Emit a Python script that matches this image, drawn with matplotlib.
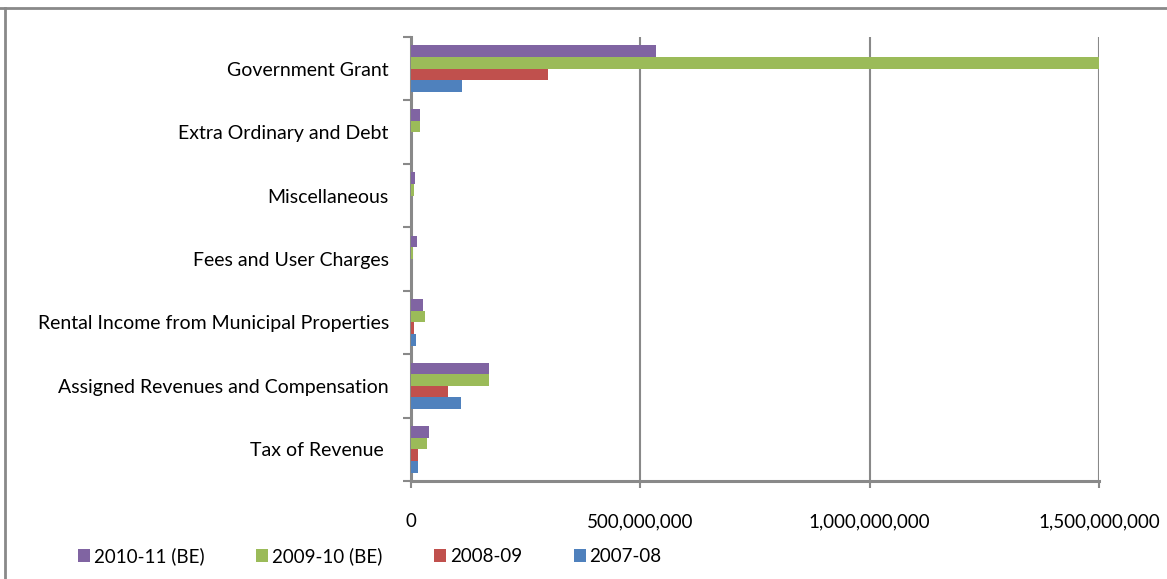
import numpy as np
import matplotlib.pyplot as plt
from matplotlib.lines import Line2D
from matplotlib.ticker import FuncFormatter

categories = ['Tax of Revenue ', 'Assigned Revenues and Compensation',
              'Rental Income from Municipal Properties', 'Fees and User Charges',
              'Miscellaneous', 'Extra Ordinary and Debt', 'Government Grant']
series_names = ['2010-11 (BE)', '2009-10 (BE)', '2008-09', '2007-08']
rev_2010_11 = [39e6, 170e6, 26e6, 13e6, 8.7e6, 19.6e6, 534e6]
rev_2009_10 = [35e6, 170e6, 31e6, 4e6, 6.5e6, 19.6e6, 1.52e9]
rev_2008_09 = [15e6, 81e6, 6.5e6, 0, 0, 0, 298e6]
rev_2007_08 = [15e6, 109e6, 11e6, 0, 0, 0, 111e6]
colors = ['#8064A2', '#9BBB59', '#C0504D', '#4F81BD']

plt.rcParams['font.family'] = ['Lato', 'DejaVu Sans']

fig = plt.figure(figsize=(11.67, 5.79), dpi=100)
ax = fig.add_axes([411 / 1167, 1 - 481 / 579, (1099 - 411) / 1167, (481 - 37) / 579])

y = np.arange(len(categories))
h = 0.183
all_series = [rev_2010_11, rev_2009_10, rev_2008_09, rev_2007_08]
for i, (vals, name, c) in enumerate(zip(all_series, series_names, colors)):
    ax.barh(y + (1.5 - i) * h, vals, height=h, color=c, label=name, zorder=3)

ax.set_xlim(0, 1.5e9)
ax.set_ylim(-0.5, len(categories) - 0.5)
ax.set_xticks([0, 5e8, 1e9, 1.5e9])
ax.xaxis.set_major_formatter(FuncFormatter(lambda v, p: f'{int(v):,}'))
ax.set_yticks(y)
ax.set_yticklabels(categories)
ax.set_yticks(np.arange(-0.5, len(categories)), minor=True)
ax.tick_params(axis='y', which='major', length=0, pad=16, labelsize=14)
ax.tick_params(axis='y', which='minor', length=6, width=1.5, color='#898989')
ax.tick_params(axis='x', length=5, width=1.5, color='#898989', pad=18, labelsize=13.5)
ax.grid(axis='x', color='#898989', linewidth=1.5, zorder=0)

for s in ['top', 'right']:
    ax.spines[s].set_visible(False)
for s in ['left', 'bottom']:
    ax.spines[s].set_color('#898989')
    ax.spines[s].set_linewidth(2.2)
    ax.spines[s].set_zorder(2)

# chart area border
fig.add_artist(Line2D([0, 1], [1 - 8 / 579] * 2, color='#898989', lw=2))
fig.add_artist(Line2D([5 / 1167] * 2, [0, 1 - 8 / 579], color='#898989', lw=2))

handles, labels = ax.get_legend_handles_labels()
fig.legend(handles, labels, loc='center left', bbox_to_anchor=(61 / 1167, 1 - 556 / 579),
           ncol=4, frameon=False, fontsize=13.5, handlelength=0.65, handleheight=0.65,
           handletextpad=0.2, columnspacing=2.75)

fig.savefig('out.png', dpi=100)
